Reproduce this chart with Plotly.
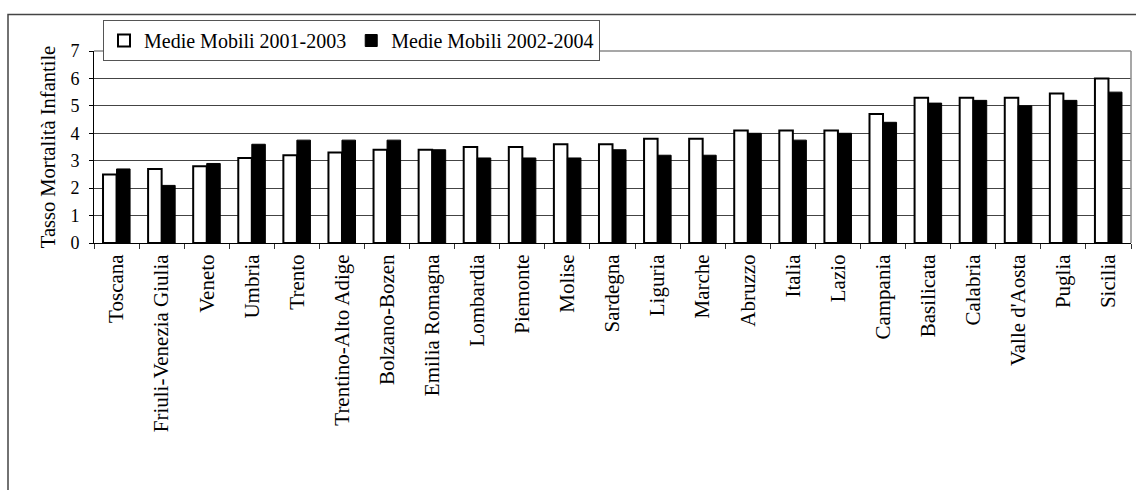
import plotly.graph_objects as go

# Regions ordered by the 2001-2003 moving average
regioni = [
    "Toscana", "Friuli-Venezia Giulia", "Veneto", "Umbria", "Trento",
    "Trentino-Alto Adige", "Bolzano-Bozen", "Emilia Romagna", "Lombardia",
    "Piemonte", "Molise", "Sardegna", "Liguria", "Marche", "Abruzzo",
    "Italia", "Lazio", "Campania", "Basilicata", "Calabria",
    "Valle d'Aosta", "Puglia", "Sicilia",
]

medie_2001_2003 = [
    2.5, 2.7, 2.8, 3.1, 3.2, 3.3, 3.4, 3.4, 3.5, 3.5, 3.6, 3.6,
    3.8, 3.8, 4.1, 4.1, 4.1, 4.7, 5.3, 5.3, 5.3, 5.45, 6.0,
]

medie_2002_2004 = [
    2.7, 2.1, 2.9, 3.6, 3.75, 3.75, 3.75, 3.4, 3.1, 3.1, 3.1, 3.4,
    3.2, 3.2, 4.0, 3.75, 4.0, 4.4, 5.1, 5.2, 5.0, 5.2, 5.5,
]

serie_nomi = ["Medie Mobili 2001-2003", "Medie Mobili 2002-2004"]
y_ticks = [0, 1, 2, 3, 4, 5, 6, 7]

FONT = "Liberation Serif, Times New Roman, serif"

fig = go.Figure()
fig.add_trace(go.Bar(
    x=regioni, y=medie_2001_2003, name=serie_nomi[0],
    marker=dict(color="white", line=dict(color="black", width=2)),
))
fig.add_trace(go.Bar(
    x=regioni, y=medie_2002_2004, name=serie_nomi[1],
    marker=dict(color="black", line=dict(color="black", width=1)),
))

W, H = 1136, 490
L, R, T, B = 94, 5, 51, 247
pw, ph = W - L - R, H - T - B

def px_x(x):
    return (x - L) / pw

def px_y(y):
    return (H - B - y) / ph

fig.update_layout(
    width=W, height=H,
    margin=dict(l=L, r=R, t=T, b=B, pad=0),
    paper_bgcolor="white", plot_bgcolor="white",
    font=dict(family=FONT, color="black", size=20),
    barmode="group", bargap=0.4, bargroupgap=0,
    showlegend=True,
    legend=dict(
        orientation="h", x=px_x(103), xanchor="left",
        y=px_y(20), yanchor="top",
        bgcolor="white", bordercolor="#555", borderwidth=1,
        font=dict(family=FONT, size=20, color="black"),
        traceorder="normal", itemwidth=30,
    ),
    xaxis=dict(
        type="category", tickangle=-90, tickson="boundaries",
        ticks="outside", ticklen=5, tickcolor="#333",
        showline=True, linecolor="black", linewidth=1,
        showgrid=False, tickfont=dict(family=FONT, size=21),
        ticklabelstandoff=2,
    ),
    yaxis=dict(
        range=[0, 7], tickvals=y_ticks, ticks="outside", ticklen=4,
        tickcolor="black", showline=True, linecolor="black", linewidth=1,
        showgrid=True, gridcolor="#444", gridwidth=1, zeroline=False,
        tickfont=dict(family=FONT, size=18), ticklabelstandoff=6,
        title=dict(text="Tasso Mortalità Infantile",
                   font=dict(family=FONT, size=20.5), standoff=9),
    ),
    shapes=[
        # grey frame on the top and right of the plotting area
        dict(type="line", xref="paper", yref="paper", x0=0, x1=1, y0=1, y1=1,
             line=dict(color="#8a8a8a", width=1.5), layer="above"),
        dict(type="line", xref="paper", yref="paper", x0=1, x1=1, y0=0, y1=1,
             line=dict(color="#8a8a8a", width=1.5), layer="above"),
        # outer chart border
        dict(type="rect", xref="paper", yref="paper",
             x0=px_x(8), x1=px_x(1140), y0=px_y(14.5), y1=px_y(520),
             line=dict(color="#444", width=1.5), fillcolor="rgba(0,0,0,0)",
             layer="below"),
    ],
)

fig.write_html("out.html")
